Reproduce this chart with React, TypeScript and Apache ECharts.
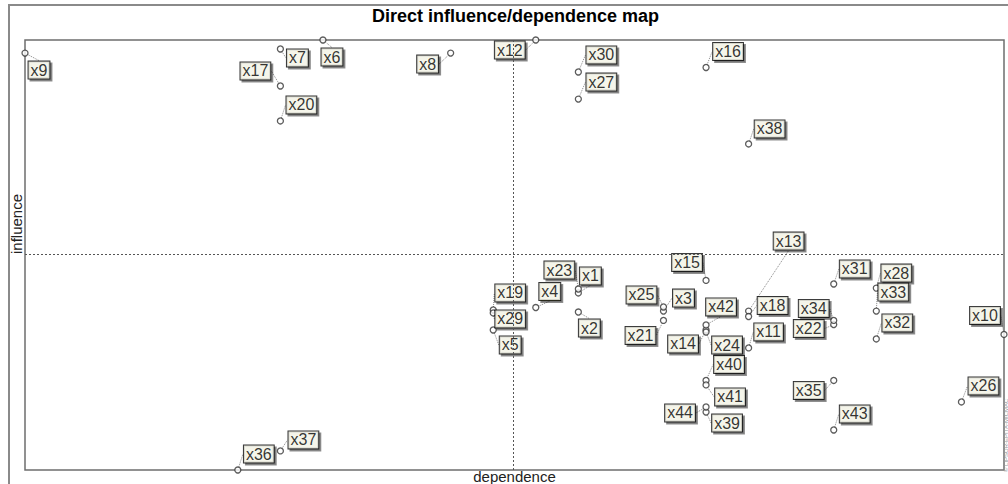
import React, { useEffect, useRef } from "react";
import * as echarts from "echarts";

const variableNames = [
  "x1", "x2", "x3", "x4", "x5", "x6", "x7", "x8", "x9", "x10",
  "x11", "x12", "x13", "x14", "x15", "x16", "x17", "x18", "x19", "x20",
  "x21", "x22", "x23", "x24", "x25", "x26", "x27", "x28", "x29", "x30",
  "x31", "x32", "x33", "x34", "x35", "x36", "x37", "x38", "x39", "x40",
  "x41", "x42", "x43", "x44",
];

const dependence = [
  13, 13, 15, 12, 11, 7, 6, 10, 0, 23,
  17, 12, 17, 16, 16, 16, 6, 17, 11, 6,
  15, 19, 13, 16, 15, 22, 13, 20, 11, 13,
  19, 20, 20, 19, 19, 5, 6, 17, 16, 16,
  16, 16, 19, 16,
];

const influence = [
  9.47, 8.45, 8.5, 8.69, 7.49, 23.0, 22.52, 22.3, 22.3, 7.25,
  6.53, 23.0, 8.5, 7.49, 10.14, 21.53, 20.54, 8.21, 8.56, 18.67,
  8.0, 7.78, 9.68, 7.38, 8.72, 3.64, 19.84, 9.73, 8.4, 21.29,
  9.95, 7.01, 8.5, 8.0, 4.79, 0, 1.02, 17.44, 3.1, 4.79,
  4.55, 7.76, 2.14, 3.37,
];

const meanDependence = 11.46;
const meanInfluence = 11.55;
const axisMax = 23;

// label box centre offset from its point (layout only)
const labelOffsets: [number, number][] = [
  [12, -17], [11, 16], [20, -13], [14, -16], [17, 15], [9, 17], [17, 9], [-23, 11], [14, 17], [-19, -19],
  [20, -16], [-26, 10], [40, -70], [-23, 14], [-19, -18], [22, -16], [-25, -15], [24, -11], [17, -17], [21, -16],
  [-23, 15], [-25, 4], [-19, -19], [21, 13], [-22, -12], [22, -16], [23, -17], [20, -15], [17, 6], [23, -17],
  [21, -15], [21, -16], [17, -19], [-20, -12], [-25, 10], [21, -16], [23, -11], [21, -15], [21, 11], [23, -16],
  [24, 12], [15, -18], [21, -16], [-26, 6],
];

const FONT = "'Liberation Sans', Arial, sans-serif";

export default function App() {
  const ref = useRef<HTMLDivElement>(null);

  useEffect(() => {
    if (!ref.current) return;
    const chart = echarts.init(ref.current, undefined, { renderer: "svg" });
    const data = variableNames.map((n, i) => ({ name: n, value: [dependence[i], influence[i]] }));
    chart.setOption({
      animation: false,
      backgroundColor: "#ffffff",
      textStyle: { fontFamily: FONT },
      title: {
        text: "Direct influence/dependence map",
        left: 372,
        top: 7,
        padding: 0,
        textStyle: { fontFamily: FONT, fontSize: 18, fontWeight: "bold", color: "#000" },
      },
      graphic: [
        {
          type: "rect",
          shape: { x: 9, y: 5, width: 1010, height: 500 },
          style: { fill: "none", stroke: "#8a8a8a", lineWidth: 2 },
          silent: true,
        },
        {
          type: "text",
          x: 16,
          y: 224,
          rotation: Math.PI / 2,
          style: {
            text: "influence",
            fontSize: 15,
            fill: "#222",
            fontFamily: FONT,
            align: "center",
            verticalAlign: "middle",
          },
          silent: true,
        },
        {
          type: "text",
          x: 1009,
          y: 472,
          rotation: Math.PI / 2,
          style: {
            text: "© LIPSOR-EPITA-MICMAC",
            fontSize: 6,
            fill: "#999",
            fontFamily: FONT,
            align: "left",
            verticalAlign: "bottom",
          },
          silent: true,
        },
      ],
      grid: {
        left: 25,
        right: 4,
        top: 40,
        bottom: 14,
        outerBoundsMode: "none",
        containLabel: false,
        show: true,
        borderColor: "#6e6e6e",
        borderWidth: 1.5,
        backgroundColor: "transparent",
      },
      xAxis: {
        type: "value",
        min: 0,
        max: axisMax,
        name: "dependence",
        nameLocation: "middle",
        nameGap: 0,
        nameTextStyle: { fontFamily: FONT, fontSize: 15, lineHeight: 12, color: "#222" },
        axisLine: { show: false },
        axisTick: { show: false },
        axisLabel: { show: false },
        splitLine: { show: false },
      },
      yAxis: {
        type: "value",
        min: 0,
        max: axisMax,
        axisLine: { show: false },
        axisTick: { show: false },
        axisLabel: { show: false },
        splitLine: { show: false },
      },
      series: [
        {
          type: "scatter",
          data,
          clip: false,
          symbol: "circle",
          symbolSize: 6,
          itemStyle: { color: "#ffffff", borderColor: "#333", borderWidth: 1.3 },
          label: {
            show: true,
            position: "inside",
            formatter: "{b}",
            fontFamily: FONT,
            fontSize: 16,
            lineHeight: 16,
            color: "#000",
            backgroundColor: "#fffff2",
            borderColor: "#000",
            borderWidth: 1,
            padding: [1, 2, 0, 2],
            shadowColor: "rgba(0,0,0,0.55)",
            shadowBlur: 1,
            shadowOffsetX: 2,
            shadowOffsetY: 2,
          },
          labelLine: {
            show: true,
            lineStyle: { color: "#888", width: 1, type: [1, 1] },
          },
          labelLayout: (params: any) => {
            const o = labelOffsets[params.dataIndex] || [0, 0];
            return { dx: o[0], dy: o[1] };
          },
          markLine: {
            silent: true,
            symbol: "none",
            label: { show: false },
            lineStyle: { color: "#555", width: 1, type: [2, 2] },
            data: [{ xAxis: meanDependence }, { yAxis: meanInfluence }],
          },
        },
      ],
    });
    return () => chart.dispose();
  }, []);

  return (
    <div
      ref={ref}
      style={{ position: "fixed", left: 0, top: 0, width: 1008, height: 484 }}
    />
  );
}
